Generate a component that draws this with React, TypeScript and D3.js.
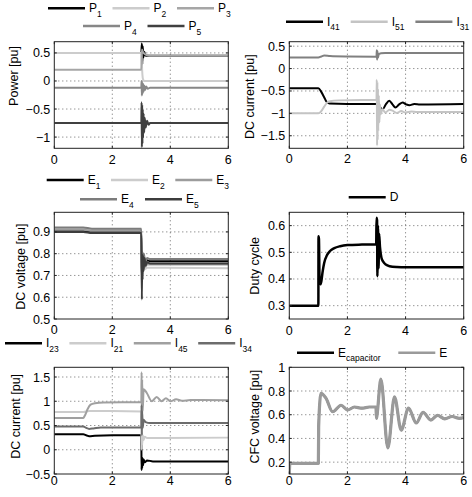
import React from 'react';
import * as d3 from 'd3';

type Pt = [number, number];

const FONT = '"Liberation Sans", Arial, Helvetica, sans-serif';
const timeTicks = [0, 2, 4, 6];

// Power of the five converters
const powerP1: Pt[] = [[0, 0.5], [3.0, 0.5], [3.02, 0.67], [3.035, 0.3], [3.05, 0.62], [3.07, 0.42], [3.1, 0.52], [3.15, 0.45], [6, 0.45]];
const powerP2: Pt[] = [[0, 0.5], [3.0, 0.5], [3.02, 0.3], [3.04, 0.1], [3.06, 0.03], [3.1, 0.0], [6, 0.0]];
const powerP3: Pt[] = [[0, 0.2], [3.0, 0.2], [3.02, 0.56], [3.05, 0.52], [3.1, 0.49], [3.2, 0.46], [3.35, 0.45], [6, 0.45]];
const powerP4: Pt[] = [[0, -0.12], [3.0, -0.12], [3.01, 0.0], [3.02, -0.26], [3.03, -0.02], [3.04, -0.23], [3.06, -0.05], [3.08, -0.19], [3.1, -0.08], [3.13, -0.16], [3.17, -0.1], [3.22, -0.14], [3.3, -0.12], [6, -0.12]];
const powerP5: Pt[] = [[0, -0.75], [3.0, -0.75], [3.01, -0.38], [3.02, -1.18], [3.03, -0.42], [3.04, -1.12], [3.05, -0.5], [3.06, -1.02], [3.08, -0.58], [3.1, -0.92], [3.12, -0.66], [3.15, -0.83], [3.2, -0.71], [3.25, -0.78], [3.3, -0.75], [6, -0.75]];

// Line currents I41, I51, I31
const currI41: Pt[] = [[0, -0.44], [1.0, -0.44], [1.1, -0.52], [1.2, -0.64], [1.28, -0.74], [1.38, -0.78], [2, -0.79], [3.0, -0.79], [3.1, -0.85], [3.21, -0.91], [3.32, -0.8], [3.44, -0.72], [3.55, -0.8], [3.65, -0.87], [3.78, -0.8], [3.9, -0.76], [4.02, -0.8], [4.13, -0.82], [4.3, -0.79], [4.5, -0.8], [6, -0.79]];
const currI51: Pt[] = [[0, -1.0], [1.0, -1.0], [1.1, -0.95], [1.2, -0.85], [1.3, -0.76], [1.4, -0.73], [1.7, -0.71], [2.5, -0.7], [3.0, -0.7], [3.01, -0.25], [3.02, -1.72], [3.03, -0.3], [3.04, -1.6], [3.05, -0.45], [3.06, -1.4], [3.08, -0.6], [3.1, -1.2], [3.12, -0.8], [3.15, -1.02], [3.2, -0.9], [3.3, -0.98], [3.45, -0.92], [3.55, -0.94], [3.7, -0.99], [3.85, -0.95], [4.0, -0.98], [4.2, -0.96], [4.4, -0.97], [6, -0.97]];
const currI31: Pt[] = [[0, 0.25], [1.0, 0.25], [1.1, 0.27], [1.2, 0.29], [1.4, 0.28], [2, 0.27], [3.0, 0.265], [3.01, 0.41], [3.02, 0.2], [3.03, 0.39], [3.05, 0.24], [3.08, 0.33], [3.15, 0.34], [3.3, 0.35], [6, 0.35]];

// Bus voltages
const voltE1: Pt[] = [[0, 0.905], [1.0, 0.905], [1.3, 0.9], [3.0, 0.9], [3.02, 0.68], [3.04, 0.8], [3.06, 0.73], [3.09, 0.79], [3.13, 0.75], [3.2, 0.77], [3.3, 0.765], [6, 0.765]];
const voltE2: Pt[] = [[0, 0.915], [1.0, 0.915], [1.3, 0.91], [3.0, 0.91], [3.02, 0.7], [3.04, 0.78], [3.06, 0.72], [3.09, 0.76], [3.13, 0.73], [3.2, 0.735], [6, 0.733]];
const voltE3: Pt[] = [[0, 0.91], [1.0, 0.91], [1.3, 0.905], [3.0, 0.905], [3.02, 0.69], [3.04, 0.79], [3.06, 0.72], [3.09, 0.78], [3.13, 0.74], [3.2, 0.75], [6, 0.75]];
const voltE4: Pt[] = [[0, 0.92], [1.0, 0.92], [1.3, 0.915], [3.0, 0.915], [3.02, 0.7], [3.04, 0.81], [3.06, 0.74], [3.09, 0.8], [3.13, 0.76], [3.2, 0.78], [3.3, 0.775], [6, 0.775]];
const voltE5: Pt[] = [[0, 0.9], [1.0, 0.9], [1.3, 0.895], [3.0, 0.895], [3.02, 0.59], [3.03, 0.8], [3.045, 0.68], [3.06, 0.79], [3.08, 0.72], [3.11, 0.78], [3.15, 0.745], [3.2, 0.76], [3.3, 0.755], [6, 0.755]];

// Duty cycle of the CFC
const dutyD: Pt[] = [[0, 0.3], [1.0, 0.3], [1.005, 0.56], [1.02, 0.55], [1.04, 0.4], [1.07, 0.38], [1.1, 0.39], [1.15, 0.43], [1.2, 0.46], [1.3, 0.49], [1.4, 0.505], [1.55, 0.516], [1.75, 0.523], [2.0, 0.527], [2.5, 0.529], [2.99, 0.53], [3.0, 0.63], [3.02, 0.62], [3.03, 0.41], [3.05, 0.6], [3.07, 0.44], [3.09, 0.57], [3.12, 0.52], [3.17, 0.48], [3.23, 0.465], [3.32, 0.454], [3.45, 0.448], [3.7, 0.445], [4.0, 0.444], [6, 0.444]];

// Branch currents I23, I21, I45, I34
const currI23: Pt[] = [[0, 0.32], [1.0, 0.32], [1.1, 0.3], [1.2, 0.28], [1.4, 0.29], [2, 0.3], [3.0, 0.3], [3.01, -0.42], [3.02, -0.15], [3.03, -0.38], [3.04, -0.17], [3.06, -0.32], [3.08, -0.2], [3.12, -0.26], [3.2, -0.22], [3.4, -0.24], [6, -0.24]];
const currI21: Pt[] = [[0, 0.78], [1.0, 0.78], [1.2, 0.8], [2, 0.8], [3.0, 0.79], [3.01, 0.0], [3.02, 0.36], [3.03, 0.1], [3.05, 0.3], [3.08, 0.2], [3.12, 0.27], [3.2, 0.24], [6, 0.25]];
const currI45: Pt[] = [[0, 0.655], [1.0, 0.655], [1.05, 0.7], [1.15, 0.84], [1.25, 0.93], [1.4, 0.96], [1.7, 0.975], [3.0, 0.98], [3.01, 1.6], [3.02, 0.6], [3.03, 1.45], [3.05, 0.8], [3.08, 1.25], [3.19, 1.17], [3.36, 1.0], [3.53, 1.09], [3.7, 1.0], [3.85, 1.06], [4.0, 1.0], [4.2, 1.04], [4.4, 1.01], [4.7, 1.025], [6, 1.02]];
const currI34: Pt[] = [[0, 0.48], [1.0, 0.48], [1.1, 0.45], [1.2, 0.43], [1.35, 0.44], [1.6, 0.46], [3.0, 0.46], [3.01, 0.92], [3.02, 0.3], [3.03, 0.8], [3.05, 0.45], [3.08, 0.62], [3.15, 0.57], [3.3, 0.55], [6, 0.55]];

// CFC capacitor voltage (E follows it)
const voltCap: Pt[] = [[0, 0.1], [0.02, 0.19], [1.0, 0.19], [1.01, 0.5], [1.09, 0.78], [1.26, 0.74], [1.49, 0.625], [1.78, 0.68], [2.01, 0.64], [2.24, 0.665], [2.5, 0.655], [2.75, 0.665], [2.98, 0.665], [3.0, 0.57], [3.02, 0.6], [3.15, 0.9], [3.39, 0.32], [3.62, 0.75], [3.85, 0.47], [4.1, 0.655], [4.37, 0.53], [4.6, 0.62], [4.87, 0.555], [5.1, 0.595], [5.35, 0.565], [5.6, 0.585], [5.85, 0.57], [6, 0.575]];
const voltE: Pt[] = voltCap;

interface Series { name: string; sub?: string; data: Pt[]; color: string; width: number }
interface LegendRow { x: number; y: number; step: number; items: number[] }
interface PanelSpec {
  id: string;
  box: [number, number, number, number];
  yDomain: [number, number];
  yTicks: number[];
  yLabel: string;
  yLabelPos: [number, number];
  xLabelGap: number;
  series: Series[];
  legend: LegendRow[];
}

const LEFT: [number, number] = [54.3, 228.3];
const RIGHT: [number, number] = [289.3, 463.7];
const ROWS: [number, number][] = [[41.7, 148.3], [212.3, 319], [367.3, 474]];

const panels: PanelSpec[] = [
  {
    id: 'power', box: [LEFT[0], ROWS[0][0], LEFT[1], ROWS[0][1]],
    yDomain: [-1.2, 0.7], yTicks: [-1, -0.5, 0, 0.5],
    yLabel: 'Power [pu]', yLabelPos: [14, 76], xLabelGap: 6.2,
    series: [
      { name: 'P', sub: '1', data: powerP1, color: '#000000', width: 2 },
      { name: 'P', sub: '2', data: powerP2, color: '#cccccc', width: 2 },
      { name: 'P', sub: '3', data: powerP3, color: '#a6a6a6', width: 2 },
      { name: 'P', sub: '4', data: powerP4, color: '#878787', width: 2 },
      { name: 'P', sub: '5', data: powerP5, color: '#404040', width: 2 },
    ],
    legend: [{ x: 48, y: 8.3, step: 64.5, items: [0, 1, 2] }, { x: 83, y: 26, step: 64.5, items: [3, 4] }],
  },
  {
    id: 'lines', box: [RIGHT[0], ROWS[0][0], RIGHT[1], ROWS[0][1]],
    yDomain: [-1.78, 0.6], yTicks: [-1.5, -1, -0.5, 0, 0.5],
    yLabel: 'DC current [pu]', yLabelPos: [249.3, 96.7], xLabelGap: 6.1,
    series: [
      { name: 'I', sub: '41', data: currI41, color: '#000000', width: 2 },
      { name: 'I', sub: '51', data: currI51, color: '#c4c4c4', width: 2 },
      { name: 'I', sub: '31', data: currI31, color: '#808080', width: 2 },
    ],
    legend: [{ x: 286, y: 21.7, step: 64.7, items: [0, 1, 2] }],
  },
  {
    id: 'volt', box: [LEFT[0], ROWS[1][0], LEFT[1], ROWS[1][1]],
    yDomain: [0.5, 0.99], yTicks: [0.5, 0.6, 0.7, 0.8, 0.9],
    yLabel: 'DC voltage [pu]', yLabelPos: [20.5, 266.7], xLabelGap: 6.2,
    series: [
      { name: 'E', sub: '1', data: voltE1, color: '#000000', width: 2 },
      { name: 'E', sub: '2', data: voltE2, color: '#cccccc', width: 2 },
      { name: 'E', sub: '3', data: voltE3, color: '#9c9c9c', width: 2 },
      { name: 'E', sub: '4', data: voltE4, color: '#7c7c7c', width: 2 },
      { name: 'E', sub: '5', data: voltE5, color: '#3c3c3c', width: 2 },
    ],
    legend: [{ x: 46.7, y: 180, step: 64.3, items: [0, 1, 2] }, { x: 80, y: 199.3, step: 65, items: [3, 4] }],
  },
  {
    id: 'duty', box: [RIGHT[0], ROWS[1][0], RIGHT[1], ROWS[1][1]],
    yDomain: [0.25, 0.65], yTicks: [0.3, 0.4, 0.5, 0.6],
    yLabel: 'Duty cycle', yLabelPos: [255, 265.8], xLabelGap: 7.2,
    series: [{ name: 'D', data: dutyD, color: '#000000', width: 2.5 }],
    legend: [{ x: 348.7, y: 197.3, step: 64, items: [0] }],
  },
  {
    id: 'branch', box: [LEFT[0], ROWS[2][0], LEFT[1], ROWS[2][1]],
    yDomain: [-0.5, 1.7], yTicks: [-0.5, 0, 0.5, 1, 1.5],
    yLabel: 'DC current [pu]', yLabelPos: [15.7, 416.3], xLabelGap: 2.2,
    series: [
      { name: 'I', sub: '23', data: currI23, color: '#000000', width: 2 },
      { name: 'I', sub: '21', data: currI21, color: '#cccccc', width: 2 },
      { name: 'I', sub: '45', data: currI45, color: '#a0a0a0', width: 2 },
      { name: 'I', sub: '34', data: currI34, color: '#6c6c6c', width: 2 },
    ],
    legend: [{ x: 5, y: 343.3, step: 64.4, items: [0, 1, 2, 3] }],
  },
  {
    id: 'cfc', box: [RIGHT[0], ROWS[2][0], RIGHT[1], ROWS[2][1]],
    yDomain: [0.1, 1], yTicks: [0.2, 0.4, 0.6, 0.8, 1],
    yLabel: 'CFC voltage [pu]', yLabelPos: [255, 416.7], xLabelGap: 2.2,
    series: [
      { name: 'E', sub: 'capacitor', data: voltCap, color: '#000000', width: 2 },
      { name: 'E', data: voltE, color: '#9a9a9a', width: 3.2 },
    ],
    legend: [{ x: 297, y: 352.7, step: 101.3, items: [0, 1] }],
  },
];

const fmt = (v: number) => String(v).replace('-', '\u2212');

const Panel: React.FC<{ spec: PanelSpec }> = ({ spec }) => {
  const [x0, y0, x1, y1] = spec.box;
  const x = d3.scaleLinear().domain([0, 6]).range([x0, x1]);
  const y = d3.scaleLinear().domain(spec.yDomain).range([y1, y0]);
  const line = d3.line<Pt>().x(d => x(d[0])).y(d => y(d[1])).curve(d3.curveMonotoneX);
  const clipId = `clip-${spec.id}`;
  const tick = 2.5;

  return (
    <g>
      <defs>
        <clipPath id={clipId}>
          <rect x={x0} y={y0} width={x1 - x0} height={y1 - y0} />
        </clipPath>
      </defs>
      <rect x={x0} y={y0} width={x1 - x0} height={y1 - y0} fill="#fff" />

      {/* dotted grid */}
      {timeTicks.slice(1, -1).map(t => (
        <line key={`gx${t}`} x1={x(t)} x2={x(t)} y1={y0} y2={y1} stroke="#444" strokeWidth={0.8} strokeDasharray="1 3" />
      ))}
      {spec.yTicks.filter(v => y(v) > y0 + 1 && y(v) < y1 - 1).map(v => (
        <line key={`gy${v}`} x1={x0} x2={x1} y1={y(v)} y2={y(v)} stroke="#444" strokeWidth={0.8} strokeDasharray="1 3" />
      ))}

      <g clipPath={`url(#${clipId})`}>
        {spec.series.map((s, i) => (
          <path key={i} d={line(s.data) || ''} fill="none" stroke={s.color} strokeWidth={s.width} strokeLinejoin="round" />
        ))}
      </g>

      {/* box and inward ticks */}
      <rect x={x0} y={y0} width={x1 - x0} height={y1 - y0} fill="none" stroke="#222" strokeWidth={1} />
      {timeTicks.map(t => (
        <g key={`tx${t}`} stroke="#222" strokeWidth={1}>
          <line x1={x(t)} x2={x(t)} y1={y1} y2={y1 - tick} />
          <line x1={x(t)} x2={x(t)} y1={y0} y2={y0 + tick} />
        </g>
      ))}
      {spec.yTicks.map(v => (
        <g key={`ty${v}`} stroke="#222" strokeWidth={1}>
          <line x1={x0} x2={x0 + tick} y1={y(v)} y2={y(v)} />
          <line x1={x1} x2={x1 - tick} y1={y(v)} y2={y(v)} />
        </g>
      ))}

      {/* tick labels */}
      {timeTicks.map(t => (
        <text key={`lx${t}`} x={x(t)} y={y1 + spec.xLabelGap + 9} textAnchor="middle" fontSize={12.5} fill="#000">{fmt(t)}</text>
      ))}
      {spec.yTicks.map(v => (
        <text key={`ly${v}`} x={x0 - 4} y={y(v)} dy="0.36em" textAnchor="end" fontSize={12.5} fill="#000">{fmt(v)}</text>
      ))}
      <text transform={`translate(${spec.yLabelPos[0]},${spec.yLabelPos[1]}) rotate(-90)`} dy="0.35em" textAnchor="middle" fontSize={12.5} fill="#000">
        {spec.yLabel}
      </text>

      {/* legend */}
      {spec.legend.map((row, r) => row.items.map((idx, k) => {
        const s = spec.series[idx];
        const lx = row.x + k * row.step;
        return (
          <g key={`lg${r}-${k}`}>
            <line x1={lx} x2={lx + 37} y1={row.y} y2={row.y} stroke={s.color} strokeWidth={2.5} />
            <text x={lx + 41} y={row.y + 4} fontSize={12} fill="#000">
              {s.name}
              {s.sub && <tspan dy={4.5} fontSize={8.5}>{s.sub}</tspan>}
            </text>
          </g>
        );
      }))}
    </g>
  );
};

export default function App() {
  return (
    <svg width={472} height={497} viewBox="0 0 472 497"
      style={{ position: 'absolute', left: 0, top: 0, background: '#fff', fontFamily: FONT }}>
      <rect width={472} height={497} fill="#fff" />
      {panels.map(p => <Panel key={p.id} spec={p} />)}
    </svg>
  );
}
